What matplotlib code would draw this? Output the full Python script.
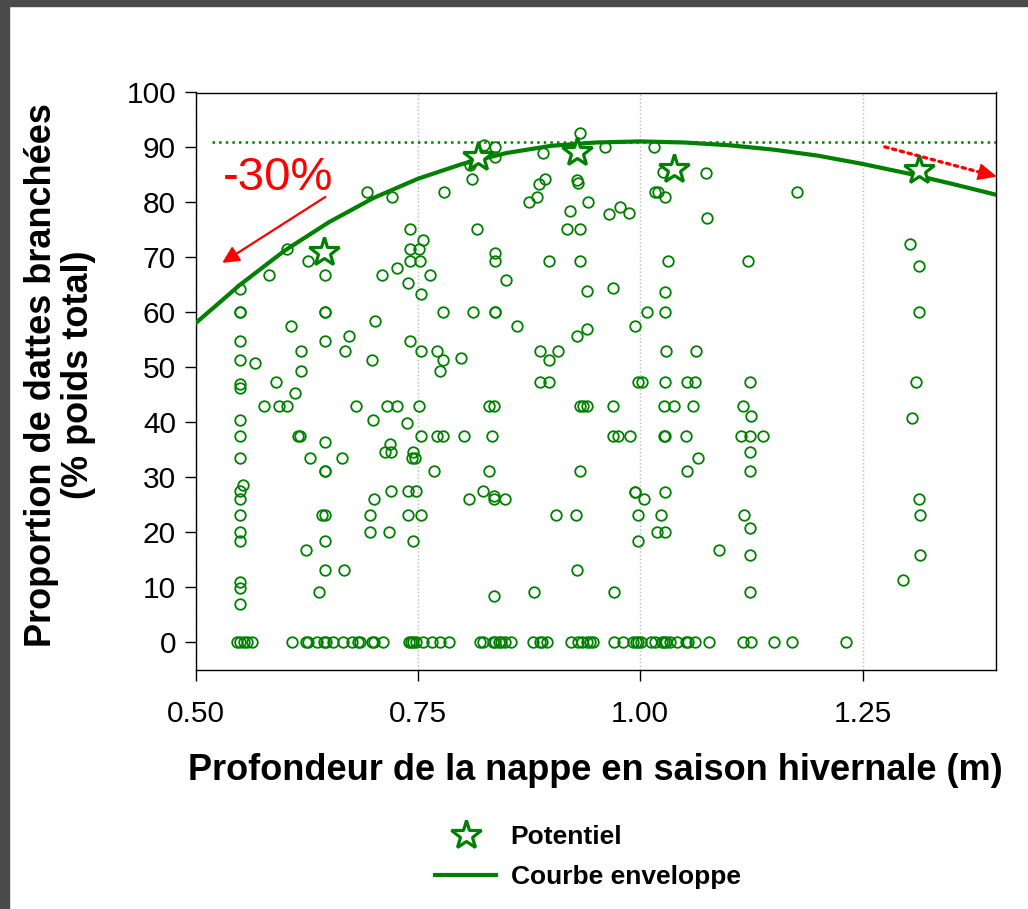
import numpy as np
import matplotlib.pyplot as plt
from matplotlib.patches import Rectangle

plt.rcParams['font.family'] = ['Liberation Sans', 'DejaVu Sans']

GREEN = '#008000'

# observations (profondeur m, % dattes branchées)
obs_x = [0.932, 0.824, 0.837, 0.837, 0.809, 0.811, 0.891, 0.929, 0.930, 0.941,
         0.893, 0.886, 0.884, 0.875, 0.921, 0.918, 0.932, 0.898, 0.932, 0.940,
         0.929, 0.940, 0.887, 0.897, 0.908, 0.887, 0.897, 0.861, 0.812, 0.837,
         0.837, 0.778, 0.779, 0.817, 0.837, 0.837, 0.849, 0.721, 0.693, 0.603,
         0.627, 0.583, 0.550, 0.550, 0.550, 0.646, 0.646, 0.646, 0.607, 0.702,
         0.673, 0.668, 0.646, 0.619, 0.619, 0.550, 0.550, 0.567, 0.591, 0.550,
         0.550, 0.698, 0.741, 0.756, 0.741, 0.751, 0.741, 0.752, 0.726, 0.710,
         0.764, 0.739, 0.754, 0.741, 0.753, 0.772, 0.778, 0.775, 0.799,
         0.612, 0.577, 0.594, 0.603, 0.681, 0.715, 0.726, 0.751, 0.830, 0.836,
         0.932, 0.936, 0.940, 0.550, 0.700, 0.738,
         0.550, 0.615, 0.617, 0.754, 0.771, 0.778, 0.802, 0.833,
         0.646, 0.719, 0.713, 0.720, 0.745,
         0.550, 0.629, 0.665, 0.743, 0.747,
         0.646, 0.646, 0.768, 0.830, 0.932,
         0.553, 0.550, 0.550, 0.701, 0.720, 0.739, 0.748, 0.808, 0.823, 0.836,
         0.836, 0.848,
         0.550, 0.642, 0.646, 0.696, 0.739, 0.754, 0.905, 0.928,
         0.550, 0.696, 0.717, 0.550, 0.646, 0.744, 0.624,
         0.646, 0.667, 0.929, 0.550, 0.550, 0.639, 0.836, 0.881, 0.550,
         0.960, 1.016, 0.965, 0.977, 0.987, 1.026, 1.074, 1.017, 1.020, 1.028,
         1.176, 1.075, 1.303, 1.313, 1.031, 1.121, 0.969, 1.028, 1.008, 1.028,
         1.313, 0.994, 1.029, 1.063,
         0.998, 1.002, 1.028, 1.053, 1.062, 1.123, 1.310,
         0.969, 1.027, 1.038, 1.059, 1.115, 1.124, 1.306,
         0.969, 0.975, 0.989, 1.027, 1.028, 1.051, 1.113, 1.123, 1.138,
         1.123, 1.065, 1.053, 1.123, 0.994, 0.994, 1.004, 1.028, 1.313,
         0.997, 1.023, 1.117, 1.314,
         1.123, 1.019, 1.028, 0.998, 1.089, 1.123, 1.314, 1.296, 0.971, 1.123]
obs_y = [92.6, 90.4, 90.1, 88.3, 86.8, 84.2, 88.9, 84.0, 83.6, 80.1,
         84.2, 83.4, 81.0, 80.1, 78.4, 75.2, 75.2, 69.3, 69.3, 63.8,
         55.7, 56.9, 53.0, 51.4, 53.0, 47.4, 47.4, 57.5, 60.1, 60.1,
         60.1, 60.1, 81.9, 75.1, 70.8, 69.3, 65.8, 81.0, 81.9, 71.6,
         69.3, 66.8, 64.3, 60.1, 60.1, 66.8, 60.1, 60.1, 57.5, 58.5,
         55.7, 53.0, 54.7, 53.0, 49.4, 54.7, 51.4, 50.8, 47.4, 46.9,
         46.3, 51.4, 75.2, 73.1, 71.6, 71.6, 69.3, 69.3, 68.1, 66.8,
         66.8, 65.3, 63.4, 54.7, 53.0, 53.0, 51.4, 49.4, 51.6,
         45.3, 43.0, 43.0, 43.0, 43.0, 43.0, 43.0, 43.0, 43.0, 43.0,
         43.0, 43.0, 43.0, 40.4, 40.4, 39.8,
         37.5, 37.5, 37.5, 37.5, 37.5, 37.5, 37.5, 37.5,
         36.4, 36.0, 34.6, 34.6, 34.6,
         33.4, 33.4, 33.4, 33.4, 33.4,
         31.1, 31.1, 31.1, 31.1, 31.1,
         28.6, 27.4, 26.0, 26.0, 27.4, 27.4, 27.4, 26.0, 27.4, 26.6,
         26.1, 26.0,
         23.1, 23.1, 23.1, 23.1, 23.1, 23.1, 23.1, 23.1,
         20.0, 20.0, 20.0, 18.4, 18.4, 18.4, 16.7,
         13.1, 13.1, 13.1, 10.9, 9.9, 9.1, 8.3, 9.1, 7.0,
         90.1, 90.1, 77.8, 79.1, 78.1, 85.6, 85.4, 81.9, 81.9, 81.0,
         81.9, 77.2, 72.5, 68.4, 69.3, 69.3, 64.4, 63.7, 60.1, 60.1,
         60.1, 57.5, 53.0, 53.0,
         47.4, 47.4, 47.4, 47.4, 47.4, 47.4, 47.4,
         43.0, 43.0, 43.0, 43.0, 43.0, 41.2, 40.7,
         37.5, 37.5, 37.5, 37.5, 37.5, 37.5, 37.5, 37.5, 37.5,
         34.5, 33.4, 31.1, 31.1, 27.3, 27.3, 26.0, 27.3, 26.1,
         23.1, 23.1, 23.1, 23.1,
         20.8, 20.0, 20.0, 18.4, 16.7, 15.8, 15.8, 11.2, 9.1, 9.1]

# observations à 0 %
zero_x = [0.547, 0.550, 0.554, 0.558, 0.564, 0.609, 0.624, 0.626, 0.637, 0.645,
          0.647, 0.655, 0.666, 0.676, 0.683, 0.685, 0.698, 0.701, 0.711, 0.740,
          0.742, 0.744, 0.748, 0.756, 0.766, 0.775, 0.785, 0.820, 0.823, 0.834,
          0.837, 0.841, 0.844, 0.848, 0.855, 0.880, 0.887, 0.890, 0.895, 0.922,
          0.930, 0.934, 0.940, 0.944, 0.947, 0.970, 0.981, 0.992, 0.995, 0.998,
          1.001, 1.012, 1.017, 1.024, 1.027, 1.029, 1.033, 1.041, 1.052, 1.054,
          1.062, 1.077, 1.116, 1.124, 1.150, 1.171, 1.231]

# potentiel
star_x = [0.645, 0.818, 0.929, 1.038, 1.313]
star_y = [71.0, 88.3, 89.1, 86.1, 85.9]

# courbe enveloppe
env_x = [0.50, 0.55, 0.60, 0.65, 0.70, 0.75, 0.80, 0.85, 0.90, 0.95,
         1.00, 1.05, 1.10, 1.15, 1.20, 1.25, 1.30, 1.35, 1.40]
env_y = [58.0, 65.0, 71.2, 76.4, 80.8, 84.3, 87.0, 89.0, 90.3, 90.9,
         91.1, 90.9, 90.4, 89.6, 88.5, 87.0, 85.3, 83.4, 81.4]
env_max = 91.0

fig = plt.figure(figsize=(10.28, 9.09), dpi=100)
fig.patches.append(Rectangle((0, 0), 9 / 1028, 1, transform=fig.transFigure,
                             color='#4a4a4a', zorder=0))
fig.patches.append(Rectangle((0, 1 - 6 / 909), 1, 6 / 909, transform=fig.transFigure,
                             color='#4a4a4a', zorder=0))

ax = fig.add_axes([195.5 / 1028, 1 - 669.5 / 909, 800.5 / 1028, 577 / 909])
ax.set_xlim(0.5, 1.4)
ax.set_ylim(-5, 100)

ax.plot(obs_x, obs_y, 'o', ms=7.6, mfc='none', mec=GREEN, mew=1.3, zorder=3)
ax.plot(zero_x, np.zeros(len(zero_x)), 'o', ms=7.6, mfc='none', mec=GREEN, mew=1.3, zorder=3)
ax.plot(env_x, env_y, '-', color=GREEN, lw=3.0, zorder=4, label='Courbe enveloppe')
ax.plot([0.518, 1.4], [env_max, env_max], ':', color=GREEN, lw=1.8, zorder=2)
ax.plot(star_x, star_y, '*', ms=22, mfc='white', mec=GREEN, mew=2.3, zorder=5,
        label='Potentiel')

# flèche pleine (-30 %)
ax.annotate('', xy=(0.530, 69.0), xytext=(0.646, 81.0), annotation_clip=False,
            arrowprops=dict(arrowstyle='-|>,head_length=1.0,head_width=0.5',
                            color='red', lw=1.6, shrinkA=0, shrinkB=0))
ax.text(0.5925, 82.2, '-30%', color='red', fontsize=34, ha='center', va='baseline')

# flèche pointillée (droite)
ax.annotate('', xy=(1.384, 85.4), xytext=(1.275, 90.1), annotation_clip=False,
            arrowprops=dict(arrowstyle='-', color='red', lw=2.4, ls=(0, (1, 1.4)),
                            shrinkA=0, shrinkB=0))
ax.annotate('', xy=(1.401, 84.7), xytext=(1.380, 85.6), annotation_clip=False,
            arrowprops=dict(arrowstyle='-|>,head_length=1.2,head_width=0.55',
                            color='red', lw=1.0, shrinkA=0, shrinkB=0))

ax.set_xticks([0.5, 0.75, 1.0, 1.25])
ax.set_xticklabels(['0.50', '0.75', '1.00', '1.25'])
ax.set_yticks(range(0, 101, 10))
ax.tick_params(axis='both', direction='out', length=8, width=1, labelsize=21.5)
ax.tick_params(axis='x', pad=14)
ax.tick_params(axis='y', pad=6)
ax.grid(axis='x', color='#bbbbbb', ls=':', lw=1)
for s in ax.spines.values():
    s.set_linewidth(1.0)

fig.text(595 / 1028, 1 - 771 / 909, 'Profondeur de la nappe en saison hivernale (m)',
         fontsize=26, fontweight='bold', ha='center', va='center')
fig.text(60 / 1028, 1 - 375 / 909, 'Proportion de dattes branchées\n(% poids total)',
         fontsize=26, fontweight='bold', ha='center', va='center', rotation=90,
         multialignment='center', linespacing=1.05)

handles, labels = ax.get_legend_handles_labels()
fig.legend(handles[::-1], labels[::-1], loc='center', bbox_to_anchor=(588 / 1028, 1 - 857 / 909),
           frameon=False, prop={'size': 19, 'weight': 'bold'}, handlelength=2.3,
           handletextpad=0.55, labelspacing=0.6, numpoints=1)

fig.savefig('out.png', dpi=100)
